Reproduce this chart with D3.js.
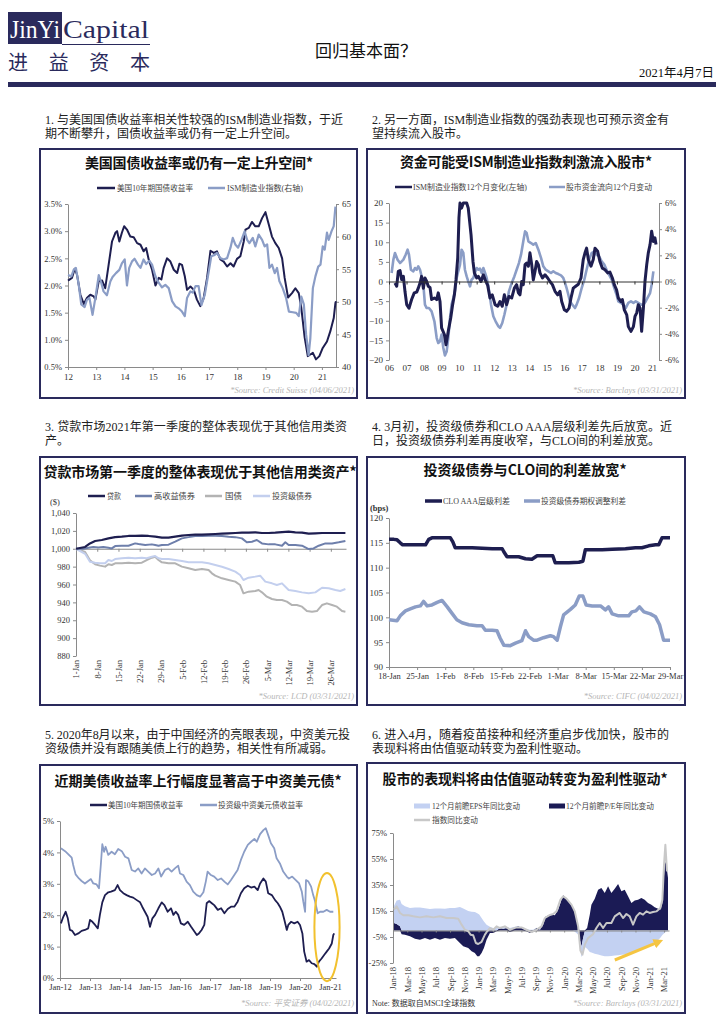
<!DOCTYPE html>
<html><head><meta charset="utf-8">
<script src="https://cdn.jsdelivr.net/npm/d3@7"></script>
<style>body{margin:0;background:#fff}svg{display:block}</style>
</head><body>
<svg id="c" width="724" height="1024"></svg>
<script>
// ---------------- DATA ----------------
// Panel 1: US 10Y yield (%) and ISM manufacturing (right axis), x = decimal year
const p1YieldX = [2012.00,2012.14,2012.24,2012.32,2012.44,2012.56,2012.67,2012.79,2012.91,2012.97,2013.09,2013.21,2013.32,2013.44,2013.56,2013.68,2013.74,2013.82,2013.91,2013.99,2014.09,2014.21,2014.33,2014.45,2014.57,2014.68,2014.77,2014.86,2014.98,2015.10,2015.22,2015.31,2015.39,2015.51,2015.63,2015.75,2015.87,2015.95,2016.04,2016.14,2016.22,2016.34,2016.46,2016.57,2016.69,2016.81,2016.93,2017.05,2017.17,2017.28,2017.40,2017.52,2017.64,2017.76,2017.87,2017.99,2018.11,2018.23,2018.29,2018.41,2018.52,2018.64,2018.76,2018.88,2019.00,2019.12,2019.23,2019.35,2019.47,2019.59,2019.68,2019.80,2019.94,2020.06,2020.18,2020.27,2020.39,2020.50,2020.59,2020.68,2020.79,2020.91,2021.03,2021.18,2021.30,2021.42,2021.48,2021.50];
const p1Yield = [2.09,2.14,2.31,2.20,1.83,1.66,1.77,1.83,1.80,1.74,2.08,2.09,1.95,2.38,2.81,2.97,3.00,2.81,2.97,3.09,3.03,2.90,2.89,2.78,2.75,2.63,2.69,2.48,2.29,2.00,2.14,2.11,2.32,2.50,2.44,2.29,2.23,2.40,2.38,2.17,1.92,1.98,1.92,1.74,1.62,1.77,2.14,2.64,2.60,2.63,2.48,2.44,2.35,2.41,2.35,2.49,2.54,2.81,3.03,3.06,3.17,3.09,3.09,3.24,3.35,3.12,2.90,2.78,2.69,2.50,2.14,1.78,1.86,1.95,1.86,1.59,1.04,0.70,0.73,0.76,0.64,0.70,0.85,0.97,1.16,1.40,1.68,1.71];
const p1IsmX = [2012.00,2012.12,2012.20,2012.28,2012.38,2012.47,2012.59,2012.67,2012.76,2012.87,2012.97,2013.09,2013.18,2013.26,2013.38,2013.50,2013.58,2013.70,2013.82,2013.91,2014.01,2014.09,2014.17,2014.27,2014.36,2014.48,2014.57,2014.68,2014.77,2014.88,2014.98,2015.10,2015.22,2015.33,2015.45,2015.57,2015.69,2015.81,2015.92,2016.04,2016.14,2016.22,2016.34,2016.42,2016.52,2016.63,2016.73,2016.85,2016.96,2017.08,2017.20,2017.28,2017.40,2017.52,2017.64,2017.76,2017.84,2017.93,2018.03,2018.15,2018.26,2018.35,2018.43,2018.55,2018.64,2018.76,2018.88,2018.97,2019.06,2019.14,2019.23,2019.33,2019.41,2019.49,2019.61,2019.73,2019.83,2019.97,2020.09,2020.18,2020.27,2020.36,2020.44,2020.53,2020.59,2020.68,2020.77,2020.87,2020.95,2021.03,2021.10,2021.18,2021.24,2021.34,2021.42,2021.48];
const p1Ism = [54.1,53.9,54.9,55.2,52.6,49.6,49.2,50.3,50.6,48.0,50.6,54.1,52.9,51.6,51.0,53.1,53.8,54.4,54.9,55.9,56.5,52.5,55.2,56.2,56.6,55.7,55.2,56.5,55.8,56.3,55.7,53.9,52.9,52.2,52.6,52.1,50.1,49.3,49.0,48.5,47.8,50.6,51.6,51.4,52.4,52.4,49.5,51.1,53.9,57.0,57.2,57.5,56.7,56.5,56.7,58.3,59.8,58.8,58.3,59.5,60.8,59.5,59.0,59.8,58.5,60.3,59.5,58.5,58.8,55.2,55.7,54.4,55.2,53.2,52.1,50.6,48.5,48.4,48.3,47.8,50.8,49.6,45.0,41.8,44.4,52.1,53.9,55.4,55.7,58.5,58.0,60.6,59.5,60.8,61.6,64.6];
const p1YearTicks = [2012,2013,2014,2015,2016,2017,2018,2019,2020,2021];
const p1LeftTicks = [0.5,1.0,1.5,2.0,2.5,3.0,3.5];
const p1RightTicks = [40,45,50,55,60,65];

// Panel 2: ISM 12m change (left) and equity fund flows 12m change % (right)
const p2IsmX = [2006.34,2006.44,2006.53,2006.63,2006.72,2006.82,2006.91,2007.01,2007.14,2007.29,2007.44,2007.58,2007.67,2007.77,2007.86,2007.96,2008.05,2008.15,2008.24,2008.34,2008.43,2008.59,2008.72,2008.81,2008.91,2009.00,2009.16,2009.25,2009.38,2009.52,2009.63,2009.73,2009.82,2009.92,2009.99,2010.05,2010.14,2010.24,2010.43,2010.52,2010.68,2010.79,2010.87,2011.00,2011.10,2011.25,2011.38,2011.48,2011.63,2011.76,2011.89,2012.05,2012.20,2012.33,2012.46,2012.58,2012.71,2012.84,2013.00,2013.15,2013.28,2013.38,2013.47,2013.57,2013.66,2013.76,2013.85,2013.95,2014.04,2014.14,2014.23,2014.33,2014.42,2014.52,2014.61,2014.75,2014.90,2015.05,2015.18,2015.32,2015.47,2015.62,2015.75,2015.85,2016.00,2016.13,2016.27,2016.38,2016.51,2016.65,2016.80,2016.95,2017.08,2017.18,2017.27,2017.37,2017.52,2017.65,2017.75,2017.90,2018.03,2018.17,2018.32,2018.47,2018.60,2018.74,2018.85,2018.98,2019.08,2019.23,2019.31,2019.42,2019.56,2019.65,2019.80,2019.94,2020.03,2020.13,2020.22,2020.32,2020.41,2020.51,2020.60,2020.70,2020.79,2020.89,2020.98,2021.08,2021.17,2021.23];
const p2Ism = [-0.4,-1.2,2.6,2.8,0.5,1.3,-2.5,-5.9,-6.8,-4.6,-2.9,-2.7,-1.7,-0.4,1.3,-1.7,0.9,0.0,-1.2,-1.5,-4.6,-4.2,-4.6,-2.9,-5.1,-11.8,-13.5,-16.1,-12.7,-9.3,-5.9,-3.4,0.4,6.0,16.2,20,18.7,20,20,18.7,11.9,5.1,2.2,0.9,1.3,0.0,1.7,0.5,-1.0,-4.2,-3.4,-5.9,-6.3,-5.1,-6.3,-3.4,-5.9,-3.8,-4.2,-1.7,-0.8,-2.9,-3.4,0.0,-0.8,4.3,4.7,3.9,7.3,4.3,0.4,2.6,5.1,4.3,2.2,0.9,1.7,0.9,0.0,-0.8,-2.5,-3.4,-2.5,-5.1,-7.2,-7.6,-6.8,-4.2,-1.7,-1.2,-0.7,0.9,5.6,7.3,8.5,5.6,3.9,5.6,8.5,7.7,5.1,3.4,3.0,2.2,2.4,0.9,-0.8,-2.1,-4.2,-5.1,-4.6,-7.2,-8.5,-11.5,-12.7,-11.5,-8.9,-8.0,-5.9,-6.8,-12.7,-6.8,0.0,4.3,7.3,9.4,12.8,10.2,11.1,9.4];
const p2FlowX = [2006.15,2006.25,2006.34,2006.49,2006.63,2006.82,2006.95,2007.06,2007.14,2007.25,2007.39,2007.48,2007.58,2007.67,2007.77,2007.86,2007.96,2008.05,2008.15,2008.28,2008.43,2008.59,2008.72,2008.81,2008.91,2009.00,2009.10,2009.19,2009.29,2009.38,2009.48,2009.57,2009.67,2009.76,2009.86,2009.95,2010.05,2010.14,2010.24,2010.33,2010.43,2010.52,2010.62,2010.71,2010.81,2010.90,2011.00,2011.10,2011.19,2011.29,2011.38,2011.48,2011.57,2011.67,2011.82,2011.95,2012.08,2012.24,2012.33,2012.46,2012.58,2012.71,2012.84,2013.00,2013.15,2013.28,2013.41,2013.53,2013.66,2013.76,2013.85,2013.95,2014.10,2014.23,2014.37,2014.52,2014.67,2014.80,2014.94,2015.09,2015.24,2015.37,2015.51,2015.66,2015.81,2015.94,2016.04,2016.13,2016.23,2016.32,2016.46,2016.61,2016.70,2016.84,2016.99,2017.14,2017.27,2017.41,2017.56,2017.71,2017.84,2017.98,2018.13,2018.28,2018.41,2018.55,2018.70,2018.85,2018.98,2019.08,2019.23,2019.37,2019.50,2019.65,2019.80,2019.94,2020.07,2020.22,2020.37,2020.51,2020.64,2020.79,2020.89,2020.98,2021.08];
const p2Flow = [0.65,1.67,2.18,1.67,1.41,1.67,2.05,2.43,2.05,0.9,0.78,1.03,0.9,1.16,0.9,0.39,-0.24,-1.77,-2.03,-2.03,-2.28,-3.04,-4.32,-4.70,-4.57,-4.06,-5.08,-5.65,-5.34,-4.32,-2.79,-1.77,-1.26,-0.75,0.27,0.78,1.29,2.43,2.18,0.9,0.39,0.01,-0.37,0.14,0.27,0.65,1.03,0.9,0.98,0.65,1.03,0.65,0.27,-0.37,-1.77,-2.66,-3.04,-3.43,-3.55,-3.17,-2.54,-1.77,-0.75,-0.11,0.39,0.9,1.41,2.05,3.07,3.83,3.71,3.07,2.94,2.82,2.94,2.43,1.80,1.16,0.9,0.78,0.65,0.78,0.65,0.57,0.47,0.27,-0.11,-0.50,-1.01,-1.52,-1.77,-2.03,-1.77,-1.26,-0.50,0.14,0.9,1.67,2.18,2.31,2.05,1.92,1.54,1.29,0.9,0.52,0.14,-0.50,-1.01,-1.52,-1.64,-1.77,-2.03,-1.64,-1.52,-1.64,-1.52,-1.64,-1.77,-1.77,-1.52,-1.13,-0.88,-0.24,0.78];
const p2YearTicks = [2006,2007,2008,2009,2010,2011,2012,2013,2014,2015,2016,2017,2018,2019,2020,2021];
const p2LeftTicks = [-20,-15,-10,-5,0,5,10,15,20];
const p2RightTicks = [-6,-4,-2,0,2,4,6];

// Panel 3: index level ($1000 at 1-Jan), x = days since 1-Jan-2021
const p3LoanX = [0,3.0,4.6,6.3,8.5,10.7,12.9,15.1,17.3,19.5,21.7,23.9,26.1,28.3,30.5,32.7,34.9,37.1,39.3,41.5,43.7,45.9,48.1,50.3,52.5,54.7,56.9,59.1,61.3,63.5,65.7,67.9,70.1,72.3,74.5,76.7,78.9,81.1,83.3,85.5,88.8];
const p3Loan = [1000,1002,1006,1008.7,1009.8,1011.6,1013,1013.5,1014.3,1014.3,1014.6,1014.3,1013.5,1012.4,1012.4,1013.5,1014.6,1015.4,1015.8,1015.8,1016.1,1016.5,1016.9,1017.2,1017.6,1018,1018,1018.4,1017.6,1017.6,1018,1018.7,1019.1,1018.4,1018,1016.9,1017.2,1017.6,1017.6,1017.6,1017.6];
const p3HyX = [0,2.4,4.1,5.7,7.4,9.0,10.7,11.8,12.9,15.1,17.3,19.5,20.6,22.8,25.0,26.1,27.2,28.3,30.5,32.7,34.9,37.1,39.3,41.5,43.7,45.9,48.1,50.3,52.5,54.7,56.3,58.0,59.6,61.3,63.5,65.7,67.9,69.0,70.1,72.3,74.5,76.7,78.3,80.0,82.2,84.4,86.6,88.8];
const p3Hy = [1000,1000,1001,1002,1001.5,1002,1001,1000.4,1003,1003.4,1003.4,1006,1005.3,1004.2,1004.9,1004.2,1003.4,1004.2,1004.6,1007.9,1011.6,1013,1014.3,1014.3,1014.6,1014.6,1014.3,1013.5,1013,1011.6,1007.2,1007.9,1009.8,1006,1004.9,1004.9,1003.4,1007.2,1004.2,1004.2,1003.4,999.6,1000.4,1003.4,1006,1006,1007.2,1008.7];
const p3TsyX = [0,3.0,4.6,6.3,7.9,9.6,10.7,11.8,12.9,15.1,17.3,19.5,21.7,23.3,25.0,26.1,27.2,28.3,30.5,32.7,34.9,37.1,39.3,41.5,43.7,44.8,45.9,48.1,50.3,52.5,54.1,55.2,56.9,59.1,60.2,61.3,62.9,64.6,66.2,67.9,69.5,71.2,72.8,74.5,76.1,77.8,79.4,81.1,82.7,84.4,86.0,87.7,88.8];
const p3Tsy = [1000,996.4,987,982.6,981.1,980,982.6,981.8,983.7,983.7,984.4,983.7,984.4,987.4,990,991.1,987.4,984.8,983.7,983.7,980,978.1,976.2,977.4,976.2,972.5,969.9,966.9,965,963.2,959.4,950.1,952,952.7,953.8,951.2,946.4,943.8,942.6,942.6,940.8,937,937,935.2,930.3,929.6,930.3,937,938.9,937,935.2,930.3,929.6];
const p3IgX = [0,3.0,4.6,6.3,7.9,9.6,10.7,11.8,12.9,15.1,17.3,19.5,21.7,23.3,25.0,26.1,27.2,28.3,30.5,32.7,34.9,37.1,39.3,41.5,43.7,45.9,48.1,50.3,52.5,54.1,55.2,56.9,59.1,60.7,62.4,64.6,66.2,67.9,70.1,72.3,74.5,76.7,78.9,81.1,83.3,85.5,87.1,88.8];
const p3Ig = [1000,994.4,985.5,984.4,983.7,983.7,987.4,986.3,988.5,989.3,990,989.3,990,989.3,991.1,991.9,989.3,988.5,988.5,987.4,986.3,984.8,984.8,984.8,983.7,981.8,979.9,977.4,974.4,970.6,965,967.6,968.8,969.9,963.2,961.3,959.4,961.3,953.8,952.7,951.2,950.1,951.2,956.4,955.7,953.8,952.7,954.9];
const p3TickDays = [0,7,14,21,28,35,42,49,56,63,70,77,84];
const p3TickLabels = ["1-Jan","8-Jan","15-Jan","22-Jan","29-Jan","5-Feb","12-Feb","19-Feb","26-Feb","5-Mar","12-Mar","19-Mar","26-Mar"];
const p3YTicks = [880,900,920,940,960,980,1000,1020,1040];

// Panel 4: spreads (bps), x = days since 18-Jan-2021
const p4CloX = [0,1.2,2.0,2.8,3.4,4.9,6.6,8.2,9.1,9.9,10.7,13.2,15.3,15.9,16.5,18.2,20.7,23.2,25.7,28.2,28.6,29.4,32.3,34.0,35.6,36.9,39.8,40.8,41.4,44.8,47.3,48.3,48.9,50.6,53.1,55.6,58.9,61.4,63.0,64.7,66.4,67.2,68.0,70];
const p4Clo = [115.7,115.7,115.6,115.0,114.6,114.6,114.6,114.6,114.6,115.7,116.0,116.0,116.0,115.2,114.0,114.0,114.0,113.9,113.8,113.8,113.2,112.2,112.2,111.8,111.7,112.4,112.4,112.4,111.0,111.0,111.1,111.3,113.6,113.6,113.6,113.7,113.8,114.0,114.0,114.4,114.6,114.6,116.0,116.0];
const p4IgX = [0,2.0,2.8,4.1,5.3,6.6,7.8,8.6,9.5,10.7,12.0,13.2,14.5,15.7,16.9,18.2,19.9,21.9,23.2,24.0,25.7,26.9,27.7,28.6,30.2,31.5,33.1,34.0,34.8,36.0,36.9,38.5,40.2,41.0,41.9,42.7,43.5,45.2,46.4,47.4,48.3,49.1,50.6,52.7,53.9,54.7,55.6,57.2,59.7,60.5,61.5,62.4,63.5,65.1,66.4,67.4,68.4,70];
const p4Ig = [99.5,99.3,100.3,101.3,101.7,102.1,102.3,103.2,102.3,102.5,103.0,103.4,102.1,100.8,99.5,98.9,98.5,98.3,98.3,97.4,97.4,97.3,95.8,94.4,94.3,94.8,95.3,97.3,96.1,95.4,95.4,95.9,96.3,96.1,95.4,98.1,100.5,101.6,102.5,104.3,104.3,102.5,102.3,102.3,101.5,102.1,100.7,100.3,100.3,101.1,101.3,102.1,101.1,100.7,100.1,98.5,95.4,95.4];
const p4TickDays = [0,7,14,21,28,35,42,49,56,63,70];
const p4TickLabels = ["18-Jan","25-Jan","1-Feb","8-Feb","15-Feb","22-Feb","1-Mar","8-Mar","15-Mar","22-Mar","29-Mar"];
const p4YTicks = [90,95,100,105,110,115,120];

// Panel 5: US 10Y vs China IG USD bond yield (%), x = decimal year
const p5ChinaX = [2012.03,2012.17,2012.28,2012.39,2012.44,2012.52,2012.63,2012.72,2012.83,2012.94,2013.03,2013.11,2013.22,2013.30,2013.36,2013.41,2013.47,2013.52,2013.61,2013.72,2013.83,2013.94,2014.06,2014.17,2014.28,2014.39,2014.50,2014.61,2014.72,2014.83,2014.94,2015.06,2015.17,2015.28,2015.37,2015.50,2015.61,2015.72,2015.83,2015.94,2016.00,2016.11,2016.22,2016.33,2016.44,2016.56,2016.67,2016.78,2016.86,2016.92,2017.03,2017.14,2017.26,2017.37,2017.48,2017.59,2017.70,2017.81,2017.92,2018.03,2018.14,2018.26,2018.37,2018.48,2018.56,2018.67,2018.78,2018.86,2018.94,2019.03,2019.14,2019.22,2019.33,2019.44,2019.56,2019.63,2019.74,2019.86,2019.97,2020.06,2020.11,2020.17,2020.20,2020.28,2020.37,2020.44,2020.50,2020.59,2020.67,2020.78,2020.89,2021.00,2021.11];
const p5China = [4.13,4.04,3.94,3.83,3.60,3.30,3.17,3.09,3.01,3.09,3.15,3.01,2.98,2.86,3.60,4.26,4.02,4.18,3.92,4.02,3.94,4.11,4.04,3.86,3.81,3.44,3.39,3.49,3.33,3.49,3.39,3.28,3.33,3.49,3.23,3.44,3.49,3.39,3.49,3.58,3.33,3.28,3.07,2.96,2.75,2.64,2.59,2.73,3.07,3.39,3.28,3.23,3.12,3.17,3.07,2.98,3.12,3.28,3.44,3.76,4.02,4.24,4.34,4.43,4.34,4.58,4.71,4.77,4.55,4.29,4.13,3.81,3.65,3.39,3.23,3.17,3.23,3.12,3.01,2.75,2.43,2.11,3.12,3.07,2.91,2.64,2.45,2.06,2.11,2.11,2.17,2.11,2.11];
const p5UsX = [2012.03,2012.11,2012.19,2012.26,2012.33,2012.41,2012.50,2012.61,2012.72,2012.83,2012.94,2013.00,2013.08,2013.17,2013.26,2013.33,2013.41,2013.50,2013.61,2013.70,2013.83,2013.92,2014.00,2014.11,2014.22,2014.33,2014.44,2014.56,2014.67,2014.74,2014.83,2014.92,2015.00,2015.08,2015.17,2015.28,2015.39,2015.48,2015.59,2015.70,2015.78,2015.86,2015.94,2016.03,2016.14,2016.26,2016.37,2016.48,2016.56,2016.63,2016.72,2016.81,2016.89,2016.97,2017.06,2017.14,2017.26,2017.37,2017.48,2017.59,2017.70,2017.81,2017.92,2018.03,2018.14,2018.26,2018.37,2018.48,2018.59,2018.67,2018.78,2018.86,2018.94,2019.06,2019.17,2019.26,2019.33,2019.41,2019.48,2019.56,2019.61,2019.70,2019.81,2019.92,2020.00,2020.08,2020.14,2020.22,2020.30,2020.39,2020.48,2020.56,2020.63,2020.72,2020.81,2020.89,2020.97,2021.06,2021.11,2021.14];
const p5Us = [1.74,1.95,2.11,1.90,1.53,1.50,1.37,1.42,1.50,1.53,1.58,1.85,1.79,1.69,1.58,2.01,2.41,2.64,2.73,2.75,2.80,2.96,2.80,2.70,2.64,2.59,2.56,2.48,2.41,2.27,2.11,1.95,1.63,1.90,2.01,2.22,2.41,2.32,2.11,2.22,2.01,2.11,2.01,1.74,1.69,1.79,1.63,1.48,1.37,1.42,1.53,1.69,2.38,2.45,2.38,2.32,2.17,2.22,2.06,2.20,2.27,2.27,2.43,2.70,2.86,2.94,2.88,2.91,2.80,3.01,3.17,3.07,2.70,2.64,2.48,2.38,2.27,2.11,1.85,1.53,1.69,1.79,1.74,1.79,1.69,1.42,0.84,0.52,0.57,0.47,0.44,0.36,0.52,0.62,0.74,0.84,0.94,1.10,1.37,1.42];
const p5YearTicks = [2012,2013,2014,2015,2016,2017,2018,2019,2020,2021];
const p5YTicks = [0,1,2,3,4,5];
const p5Highlight = {year: 2020.9, value: 1.62, halfYears: 0.42, halfValue: 1.72};

// Panel 6: MSCI ACWI decomposition (%), x = months since Jan-2018
const p6M = [0.14,0.51,0.98,1.21,1.68,2.38,3.08,3.78,4.48,5.18,5.88,6.58,7.28,7.98,8.68,9.38,9.85,10.55,11.02,11.48,11.81,12.09,12.42,12.75,13.12,13.59,14.05,14.52,14.99,15.45,15.92,16.39,17.09,17.55,18.02,18.72,19.19,19.65,20.12,20.59,21.06,21.43,21.90,22.36,22.69,23.16,23.48,23.86,24.23,24.79,25.26,25.72,25.96,26.19,26.42,26.66,26.89,27.22,27.59,27.82,28.29,28.76,29.22,29.69,30.16,30.62,31.09,31.56,32.03,32.49,32.96,33.43,33.89,34.36,34.83,35.29,35.76,36.23,36.69,37.16,37.49,37.77,37.95,38.14,38.33,38.56];
const p6PE = [5.8,5.0,3.2,-2.8,-3.3,-4.5,-6.4,-7.2,-5.8,-7.2,-5.8,-7.2,-5.8,-6.4,-5.8,-9.6,-12.2,-13.5,-16.0,-17.3,-19.9,-19.9,-17.3,-13.5,-7.2,-1.9,-1.9,-0.6,1.9,1.4,1.9,-1.2,2.4,3.2,1.9,-0.6,-1.9,-1.2,1.9,0.6,4.5,10.9,11.7,12.2,11.7,16.0,21.2,27.1,25.0,21.2,17.3,9.6,1.9,-7.2,-12.3,-5.8,-0.6,1.9,12.2,19.9,24.5,31.4,32.7,28.8,34.0,28.8,32.2,35.8,30.1,31.4,26.3,21.2,23.0,23.7,25.0,23.7,21.2,19.9,17.8,16.8,16.0,21.2,37.8,53.0,50.6,40.4];
const p6EPS = [13,18,20.5,20.4,18.6,17.3,17.6,17.6,17.2,16.5,17.0,16.9,16.7,17.3,17.3,18.0,17.0,15.0,14.5,14.2,13.2,12.3,9.6,7.0,4.5,2.8,1.9,1.9,1.0,1.0,1.0,2.0,0.5,0.3,0.5,1.0,0.6,0.6,0.3,0.2,0,0,0,0,0,0,0,0,0,0,0,-1.9,-3,-4,-8.3,-10.5,-12,-14,-16.5,-17,-17.8,-18.5,-19.2,-19.9,-19.9,-19.7,-19.3,-19,-18.7,-18.4,-17.8,-17.2,-16.2,-15,-14,-13,-11.5,-10.2,-9,-7.5,-5.5,-3.5,-2.5,-1.5,-0.8,-0.1];
const p6IndexM = [0.14,0.51,0.98,1.45,2.15,2.85,3.78,4.72,5.65,6.58,7.52,8.45,9.15,9.62,10.08,10.55,10.88,11.25,11.62,11.95,12.42,12.89,13.21,13.59,14.05,14.52,14.99,15.69,16.39,17.32,18.02,18.72,19.42,20.12,20.82,21.29,21.90,22.46,22.92,23.48,23.86,24.32,25.02,25.49,25.96,26.28,26.56,26.89,27.36,28.06,28.52,28.99,29.46,29.93,30.62,31.09,31.79,32.26,32.73,33.19,33.66,34.13,34.59,35.06,35.53,35.99,36.46,36.93,37.49,37.77,38.00,38.19,38.42];
const p6Index = [16.0,18.6,13.5,11.7,11.7,10.9,10.1,10.9,10.1,10.9,9.6,9.6,9.1,4.5,0.6,-0.6,-3.2,-3.7,-9.6,-10.4,-8.8,-3.2,-0.6,1.9,0.6,3.2,1.9,3.2,0.6,2.4,2.4,0.6,-1.2,0.6,3.2,9.6,11.7,12.7,14.7,23.7,26.3,24.5,19.9,14.7,3.2,-15.5,-18.6,-10.9,-5.8,-2.8,1.9,5.8,1.9,5.8,5.8,10.9,13.5,9.6,12.7,10.9,4.5,10.9,13.5,12.2,14.7,13.5,14.2,14.7,17.3,23.7,50.6,66.0,45.5];
const p6TickMonths = [0,2,4,6,8,10,12,14,16,18,20,22,24,26,28,30,32,34,36,38];
const p6TickLabels = ["Jan-18","Mar-18","May-18","Jul-18","Sep-18","Nov-18","Jan-19","Mar-19","May-19","Jul-19","Sep-19","Nov-19","Jan-20","Mar-20","May-20","Jul-20","Sep-20","Nov-20","Jan-21","Mar-21"];
const p6YTicks = [-25,-5,15,35,55,75];
const p6Arrow = {m0: 31.1, v0: -22.7, m1: 37.25, v1: -8.8};

// ---------------- STYLE ----------------
const NAVY = "#1e1e50", BORDER = "#2a2a5c", LIGHT = "#8b9dc6";
const MIX = "'Liberation Serif','Noto Sans CJK SC',serif";
const CJK = "'Noto Sans CJK SC',sans-serif";
const svg = d3.select("#c");

function T(g, x, y, s, o = {}) {
  const t = g.append("text").attr("x", x).attr("y", y).text(s)
    .attr("font-family", o.ff || MIX).attr("font-size", o.fs || 12)
    .attr("fill", o.fill || "#222");
  if (o.anchor) t.attr("text-anchor", o.anchor);
  if (o.fw) t.attr("font-weight", o.fw);
  if (o.italic) t.attr("font-style", "italic");
  if (o.tl) t.attr("textLength", o.tl).attr("lengthAdjust", o.adj || "spacingAndGlyphs");
  return t;
}
function styleAxis(g, fs) {
  g.select(".domain").attr("stroke", "#8a8a8a");
  g.selectAll(".tick line").attr("stroke", "#8a8a8a");
  g.selectAll(".tick text").attr("font-family", MIX).attr("font-size", fs || 8.5).attr("fill", "#333");
}
function rotateLabels(g) {
  g.selectAll(".tick text").attr("transform", "rotate(-90)")
    .attr("text-anchor", "end").attr("x", -4).attr("y", 0).attr("dy", "0.35em");
}
function panel(box, title, tcx, tby, tw, legend, ly, source, srcY) {
  const g = svg.append("g");
  g.append("rect").attr("x", box.x).attr("y", box.y).attr("width", box.w).attr("height", box.h)
    .attr("fill", "none").attr("stroke", BORDER).attr("stroke-width", 2);
  T(g, tcx, tby, title, {ff: CJK, fs: 14, fw: 700, anchor: "middle", tl: tw, adj: "spacing", fill: "#111"});
  legend.forEach(l => {
    const yy = l.y !== undefined ? l.y : ly;
    if (l.type === "rect") {
      g.append("rect").attr("x", l.x).attr("y", yy - 2.5).attr("width", l.w).attr("height", 5).attr("fill", l.color);
    } else {
      g.append("line").attr("x1", l.x).attr("x2", l.x + l.w).attr("y1", yy).attr("y2", yy)
        .attr("stroke", l.color).attr("stroke-width", l.sw || 2.5);
    }
    T(g, l.tx, yy + 3, l.label, {fs: 8, fill: "#444", tl: l.tw});
  });
  T(g, box.x + box.w - 3, srcY, source, {fs: 8.5, fill: "#b5b5b5", italic: true, anchor: "end"});
  return g;
}
function para(x, y0, lines, w1) {
  lines.forEach((s, i) => T(svg, x, y0 + i * 14, s, {fs: 12, fill: "#222", tl: i === 0 ? w1 : null, adj: "spacing"}));
}
function linePath(g, xs, ys, xS, yS, color, w) {
  const pts = xs.map((d, i) => [d, ys[i]]);
  g.append("path").datum(pts).attr("fill", "none").attr("stroke", color).attr("stroke-width", w)
    .attr("stroke-linejoin", "round")
    .attr("d", d3.line().x(d => xS(d[0])).y(d => yS(d[1])));
}

// ---------------- HEADER ----------------
svg.append("rect").attr("x", 8).attr("y", 12).attr("width", 54).attr("height", 32).attr("fill", BORDER);
T(svg, 10, 38, "JinYi", {ff: "'Liberation Serif',serif", fs: 26, fill: "#fff", tl: 50});
T(svg, 63, 38, "Capital", {ff: "'Liberation Serif',serif", fs: 26, fill: BORDER, tl: 86});
svg.append("line").attr("x1", 62).attr("x2", 150).attr("y1", 44.5).attr("y2", 44.5).attr("stroke", BORDER).attr("stroke-width", 1);
T(svg, 8, 70, "进益资本", {ff: CJK, fs: 20, fill: BORDER, tl: 142, adj: "spacing"});
T(svg, 366, 57, "回归基本面？", {ff: CJK, fs: 17, fill: "#111", anchor: "middle"});
T(svg, 714, 77, "2021年4月7日", {fs: 12.5, fill: "#111", anchor: "end"});
svg.append("rect").attr("x", 8).attr("y", 82).attr("width", 708).attr("height", 5).attr("fill", BORDER);

// ---------------- PARAGRAPHS ----------------
para(45, 124, ["1. 与美国国债收益率相关性较强的ISM制造业指数，于近", "期不断攀升，国债收益率或仍有一定上升空间。"], 298);
para(372, 124, ["2. 另一方面，ISM制造业指数的强劲表现也可预示资金有", "望持续流入股市。"], 297);
para(45, 431, ["3. 贷款市场2021年第一季度的整体表现优于其他信用类资", "产。"], 302);
para(372, 431, ["4. 3月初，投资级债券和CLO AAA层级利差先后放宽。近", "日，投资级债券利差再度收窄，与CLO间的利差放宽。"], 300);
para(45, 739, ["5. 2020年8月以来，由于中国经济的亮眼表现，中资美元投", "资级债并没有跟随美债上行的趋势，相关性有所减弱。"], 305);
para(372, 739, ["6. 进入4月，随着疫苗接种和经济重启步伐加快，股市的", "表现料将由估值驱动转变为盈利性驱动。"], 297);

// ---------------- PANEL 1 ----------------
{
  const g = panel({x: 40, y: 149, w: 317, h: 249}, "美国国债收益率或仍有一定上升空间*", 199, 168, 228,
    [{x: 97, w: 18, color: NAVY, label: "美国10年期国债收益率", tx: 117, tw: 76},
     {x: 208, w: 17, color: LIGHT, label: "ISM制造业指数(右轴)", tx: 227, tw: 76}], 188,
    "*Source: Credit Suisse (04/06/2021)", 393);
  const x = d3.scaleLinear().domain([2012, 2021.5]).range([68, 336]);
  const yL = d3.scaleLinear().domain([0.5, 3.5]).range([367, 204]);
  const yR = d3.scaleLinear().domain([40, 65]).range([367, 204]);
  const ax = g.append("g").attr("transform", "translate(0,367)")
    .call(d3.axisBottom(x).tickValues(p1YearTicks).tickSize(3).tickSizeOuter(0).tickPadding(4).tickFormat(d => String(d).slice(2)));
  styleAxis(ax, 9);
  const al = g.append("g").attr("transform", "translate(68,0)")
    .call(d3.axisLeft(yL).tickValues(p1LeftTicks).tickSize(3).tickSizeOuter(0).tickFormat(d => d.toFixed(1) + "%"));
  styleAxis(al, 8.5);
  const ar = g.append("g").attr("transform", "translate(336,0)")
    .call(d3.axisRight(yR).tickValues(p1RightTicks).tickSize(3).tickSizeOuter(0));
  styleAxis(ar, 9);
  linePath(g, p1YieldX, p1Yield, x, yL, NAVY, 2);
  linePath(g, p1IsmX, p1Ism, x, yR, LIGHT, 2.2);
}

// ---------------- PANEL 2 ----------------
{
  const g = panel({x: 367, y: 149, w: 318, h: 249}, "资金可能受ISM制造业指数刺激流入股市*", 526, 167, 252,
    [{x: 395, w: 17, color: NAVY, label: "ISM制造业指数12个月变化(左轴)", tx: 413, tw: 114},
     {x: 549, w: 16, color: LIGHT, label: "股市资金流向12个月变动", tx: 566, tw: 86}], 187,
    "*Source: Barclays (03/31/2021)", 393);
  const x = d3.scaleLinear().domain([2006, 2021.4]).range([389, 659]);
  const yL = d3.scaleLinear().domain([-20, 20]).range([360, 203]);
  const yR = d3.scaleLinear().domain([-6, 6]).range([360, 203]);
  const al = g.append("g").attr("transform", "translate(389,0)")
    .call(d3.axisLeft(yL).tickValues(p2LeftTicks).tickSize(3).tickSizeOuter(0));
  styleAxis(al, 9);
  const ar = g.append("g").attr("transform", "translate(659,0)")
    .call(d3.axisRight(yR).tickValues(p2RightTicks).tickSize(3).tickSizeOuter(0).tickFormat(d => d + "%"));
  styleAxis(ar, 8.5);
  const labels = g.append("g").attr("transform", "translate(0,362)")
    .call(d3.axisBottom(x).tickValues(p2YearTicks).tickSize(0).tickPadding(3).tickFormat(d => String(d).slice(2)));
  labels.select(".domain").remove();
  styleAxis(labels, 9);
  linePath(g, p2FlowX, p2Flow, x, yR, LIGHT, 2.6);
  linePath(g, p2IsmX, p2Ism, x, yL, NAVY, 3);
  const a0 = g.append("g").attr("transform", `translate(0,${yL(0)})`)
    .call(d3.axisBottom(x).tickValues(p2YearTicks).tickSize(3).tickSizeOuter(0).tickFormat(""));
  a0.select(".domain").attr("stroke", "#333");
  a0.selectAll(".tick line").attr("stroke", "#333");
}

// ---------------- PANEL 3 ----------------
{
  const g = panel({x: 40, y: 457, w: 317, h: 248}, "贷款市场第一季度的整体表现优于其他信用类资产*", 200, 477, 313,
    [{x: 88, w: 17, color: NAVY, label: "贷款", tx: 107, tw: 14},
     {x: 135, w: 17, color: "#6e7fab", label: "高收益债券", tx: 154, tw: 41},
     {x: 205, w: 17, color: "#b3b3b3", label: "国债", tx: 225, tw: 17},
     {x: 253, w: 17, color: "#c3cfee", label: "投资级债券", tx: 272, tw: 40}], 496,
    "*Source: LCD (03/31/2021)", 699);
  T(g, 50, 505, "($)", {fs: 8.5, fill: "#333"});
  const x = d3.scaleLinear().domain([0, 89]).range([76, 346]);
  const y = d3.scaleLinear().domain([880, 1040]).range([656, 513]);
  const al = g.append("g").attr("transform", "translate(76,0)")
    .call(d3.axisLeft(y).tickValues(p3YTicks).tickSize(3).tickSizeOuter(0).tickFormat(d3.format(",")));
  styleAxis(al, 8.5);
  const lb = g.append("g").attr("transform", "translate(0,656)")
    .call(d3.axisBottom(x).tickValues(p3TickDays).tickSize(0).tickFormat((d, i) => p3TickLabels[i]));
  lb.select(".domain").remove();
  styleAxis(lb, 8.5);
  rotateLabels(lb);
  const a0 = g.append("g").attr("transform", `translate(0,${y(1000)})`)
    .call(d3.axisBottom(x).tickValues(p3TickDays).tickSize(3).tickSizeOuter(0).tickFormat(""));
  styleAxis(a0);
  linePath(g, p3TsyX, p3Tsy, x, y, "#b3b3b3", 2);
  linePath(g, p3IgX, p3Ig, x, y, "#c3cfee", 2);
  linePath(g, p3HyX, p3Hy, x, y, "#6e7fab", 2);
  linePath(g, p3LoanX, p3Loan, x, y, NAVY, 2.2);
}

// ---------------- PANEL 4 ----------------
{
  const g = panel({x: 367, y: 457, w: 318, h: 248}, "投资级债券与CLO间的利差放宽*", 525, 475, 203,
    [{x: 425, w: 17, color: NAVY, label: "CLO AAA层级利差", tx: 443, tw: 67, sw: 3.5},
     {x: 524, w: 16, color: LIGHT, label: "投资级债券期权调整利差", tx: 541, tw: 85, sw: 3.5}], 501,
    "*Source: CIFC (04/02/2021)", 699);
  T(g, 370, 511, "(bps)", {fs: 8.5, fill: "#333", fw: 700});
  const x = d3.scaleLinear().domain([0, 70]).range([389, 670]);
  const y = d3.scaleLinear().domain([90, 120]).range([667, 518]);
  const al = g.append("g").attr("transform", "translate(389,0)")
    .call(d3.axisLeft(y).tickValues(p4YTicks).tickSize(3).tickSizeOuter(0));
  styleAxis(al, 9);
  const ab = g.append("g").attr("transform", "translate(0,667)")
    .call(d3.axisBottom(x).tickValues(p4TickDays).tickSize(3).tickSizeOuter(0).tickPadding(3).tickFormat((d, i) => p4TickLabels[i]));
  styleAxis(ab, 8.5);
  linePath(g, p4CloX, p4Clo, x, y, NAVY, 3.5);
  linePath(g, p4IgX, p4Ig, x, y, LIGHT, 3.5);
}

// ---------------- PANEL 5 ----------------
{
  const g = panel({x: 40, y: 765, w: 317, h: 248}, "近期美债收益率上行幅度显著高于中资美元债*", 198, 786, 287,
    [{x: 90, w: 17, color: NAVY, label: "美国10年期国债收益率", tx: 108, tw: 75},
     {x: 200, w: 17, color: LIGHT, label: "投资级中资美元债收益率", tx: 218, tw: 85}], 805,
    "*Source: 平安证券 (04/02/2021)", 1006);
  const x = d3.scaleLinear().domain([2012, 2021.2]).range([60, 336]);
  const y = d3.scaleLinear().domain([0, 5]).range([978, 821]);
  const al = g.append("g").attr("transform", "translate(60,0)")
    .call(d3.axisLeft(y).tickValues(p5YTicks).tickSize(3).tickSizeOuter(0).tickFormat(d => d + "%"));
  styleAxis(al, 8.5);
  const ab = g.append("g").attr("transform", "translate(0,978)")
    .call(d3.axisBottom(x).tickValues(p5YearTicks).tickSize(3).tickSizeOuter(0).tickPadding(3)
      .tickFormat(d => "Jan-" + String(d).slice(2)));
  styleAxis(ab, 8.5);
  linePath(g, p5ChinaX, p5China, x, y, LIGHT, 1.8);
  linePath(g, p5UsX, p5Us, x, y, NAVY, 1.8);
  const h = p5Highlight;
  g.append("ellipse").attr("cx", x(h.year)).attr("cy", y(h.value))
    .attr("rx", x(h.year + h.halfYears) - x(h.year)).attr("ry", y(h.value - h.halfValue) - y(h.value))
    .attr("fill", "none").attr("stroke", "#f2c12e").attr("stroke-width", 2);
}

// ---------------- PANEL 6 ----------------
{
  const g = panel({x: 367, y: 763, w: 318, h: 250}, "股市的表现料将由估值驱动转变为盈利性驱动*", 525, 784, 285,
    [{type: "rect", x: 414, w: 16, color: "#c3d1f2", label: "12个月前瞻EPS年同比变动", tx: 432, tw: 88},
     {type: "rect", x: 549, w: 16, color: "#1b1b55", label: "12个月前瞻P/E年同比变动", tx: 566, tw: 88},
     {x: 414, w: 16, color: "#c8c8c8", label: "指数同比变动", tx: 432, tw: 46, y: 820}], 806,
    "*Source: Barclays (03/31/2021)", 1006);
  T(g, 372, 1006, "Note: 数据取自MSCI全球指数", {fs: 8, fill: "#333"});
  const x = d3.scaleLinear().domain([0, 38.7]).range([393, 669]);
  const y = d3.scaleLinear().domain([-25, 75]).range([963, 833]);
  const rows = p6M.map((m, i) => ({m, pe: p6PE[i], eps: p6EPS[i]}));
  const series = d3.stack().keys(["pe", "eps"]).offset(d3.stackOffsetDiverging)(rows);
  const colors = {pe: "#1b1b55", eps: "#c3d1f2"};
  const area = d3.area().x(d => x(d.data.m)).y0(d => y(d[0])).y1(d => y(d[1]));
  series.forEach(s => g.append("path").datum(s).attr("fill", colors[s.key]).attr("d", area));
  const al = g.append("g").attr("transform", "translate(393,0)")
    .call(d3.axisLeft(y).tickValues(p6YTicks).tickSize(3).tickSizeOuter(0).tickFormat(d => d + "%"));
  styleAxis(al, 8.5);
  const lb = g.append("g").attr("transform", "translate(0,963)")
    .call(d3.axisBottom(x).tickValues(p6TickMonths).tickSize(0).tickFormat((d, i) => p6TickLabels[i]));
  lb.select(".domain").remove();
  styleAxis(lb, 8.5);
  rotateLabels(lb);
  const a0 = g.append("g").attr("transform", `translate(0,${y(0)})`)
    .call(d3.axisBottom(x).tickValues(p6TickMonths).tickSize(2).tickSizeOuter(0).tickFormat(""));
  styleAxis(a0);
  linePath(g, p6IndexM, p6Index, x, y, "#c8c8c8", 2);
  const defs = svg.append("defs");
  defs.append("marker").attr("id", "ah").attr("viewBox", "0 0 10 10").attr("refX", 5).attr("refY", 5)
    .attr("markerWidth", 3.2).attr("markerHeight", 3.2).attr("orient", "auto")
    .append("path").attr("d", "M0,0 L10,5 L0,10 z").attr("fill", "#f5c542");
  const A = p6Arrow;
  g.append("line").attr("x1", x(A.m0)).attr("y1", y(A.v0)).attr("x2", x(A.m1)).attr("y2", y(A.v1))
    .attr("stroke", "#f5c542").attr("stroke-width", 3).attr("marker-end", "url(#ah)");
}
</script>
</body></html>
